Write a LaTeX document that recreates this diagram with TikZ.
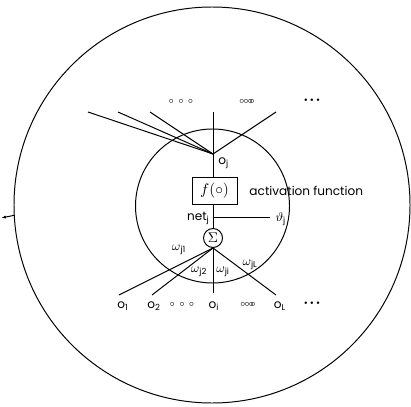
\documentclass[tikz,border=0pt]{standalone}
\usepackage{fontspec}
\setmainfont{Poppins}
\usetikzlibrary{arrows.meta}
\begin{document}
\begin{tikzpicture}[x=0.025cm,y=-0.025cm,
  every path/.style={line width=0.7pt},
  lbl/.style={inner sep=0pt,font=\fontsize{8.6}{9}\selectfont},
  dotsym/.style={inner sep=0pt,font=\fontsize{6.5}{7}\selectfont},
  bul/.style={inner sep=0pt,font=\fontsize{7}{7}\selectfont}]
\useasboundingbox (0,0) rectangle (411,406);
% circles
\node[draw,circle,minimum size=396*0.025cm,inner sep=0pt] (outer) at (212,205) {};
\node[draw,circle,minimum size=154*0.025cm,inner sep=0pt] (inner) at (212.5,206) {};
\coordinate (arrowend) at (1,218);
\draw[-{Latex[length=3.5pt,width=2.2pt]}] (outer.183.5) -- (arrowend);
% top fan
\coordinate (J) at (213,154);
\coordinate (t1) at (88,112);
\coordinate (t2) at (118,112);
\coordinate (t3) at (150,112);
\coordinate (t4) at (213,112);
\coordinate (t5) at (276,112);
\foreach \t in {t1,t2,t3,t4,t5} \draw (J) -- (\t);
% f box
\node[draw,minimum width=45*0.025cm,minimum height=27*0.025cm,inner sep=0pt,font=\fontsize{10.5}{11}\selectfont] (f) at (214.5,190.5) {$f(\circ)$};
\draw (J) -- (f.north -| J);
\node[lbl,anchor=west] (oj) at (218,163) {o\textsubscript{j}};
\node[lbl,anchor=west] (act) at (249,191) {activation function};
% sum
\node[draw,circle,minimum size=19*0.025cm,inner sep=0pt] (sum) at (213,238) {$\Sigma$};
\draw (f.south -| sum) -- (sum.north);
\coordinate (thl) at (213,217);
\coordinate (thr) at (270,217);
\draw (thl) -- (thr);
\node[lbl,anchor=east] (net) at (210,218) {net\textsubscript{j}};
\node[lbl,anchor=west] (theta) at (275,219) {$\vartheta$\textsubscript{j}};
% bottom fan
\coordinate (b1) at (119,295);
\coordinate (b2) at (152,295);
\coordinate (bi) at (213,293);
\coordinate (bL) at (276,295);
\foreach \b in {b1,b2,bi,bL} \draw (sum.south) -- (\b);
\node[lbl] (w1) at (179,250) {$\omega$\textsubscript{j1}};
\node[lbl] (w2) at (199,272) {$\omega$\textsubscript{j2}};
\node[lbl] (wi) at (223,272) {$\omega$\textsubscript{ji}};
\node[lbl] (wL) at (250,265) {$\omega$\textsubscript{jL}};
% bottom labels
\node[lbl] (o1) at (123,306) {o\textsubscript{1}};
\node[lbl] (o2) at (154,306) {o\textsubscript{2}};
\node[dotsym] (bd1) at (182,304) {$\circ\,\circ\,\circ$};
\node[lbl] (oi) at (214,306) {o\textsubscript{i}};
\node[dotsym] (bd2) at (248,304) {$\circ\!\!\circ\!\!\circ\!\!\circ$};
\node[lbl] (oL) at (280,306) {o\textsubscript{L}};
\node[bul] (bd3) at (312,304) {\textbullet\hspace{1.5pt}\textbullet\hspace{1.5pt}\textbullet};
% top dots
\node[dotsym] (td1) at (181,101) {$\circ\,\circ\,\circ$};
\node[dotsym] (td2) at (247,101) {$\circ\!\!\circ\!\!\circ\!\!\circ$};
\node[bul] (td3) at (312,101) {\textbullet\hspace{1.5pt}\textbullet\hspace{1.5pt}\textbullet};
\end{tikzpicture}
\end{document}
